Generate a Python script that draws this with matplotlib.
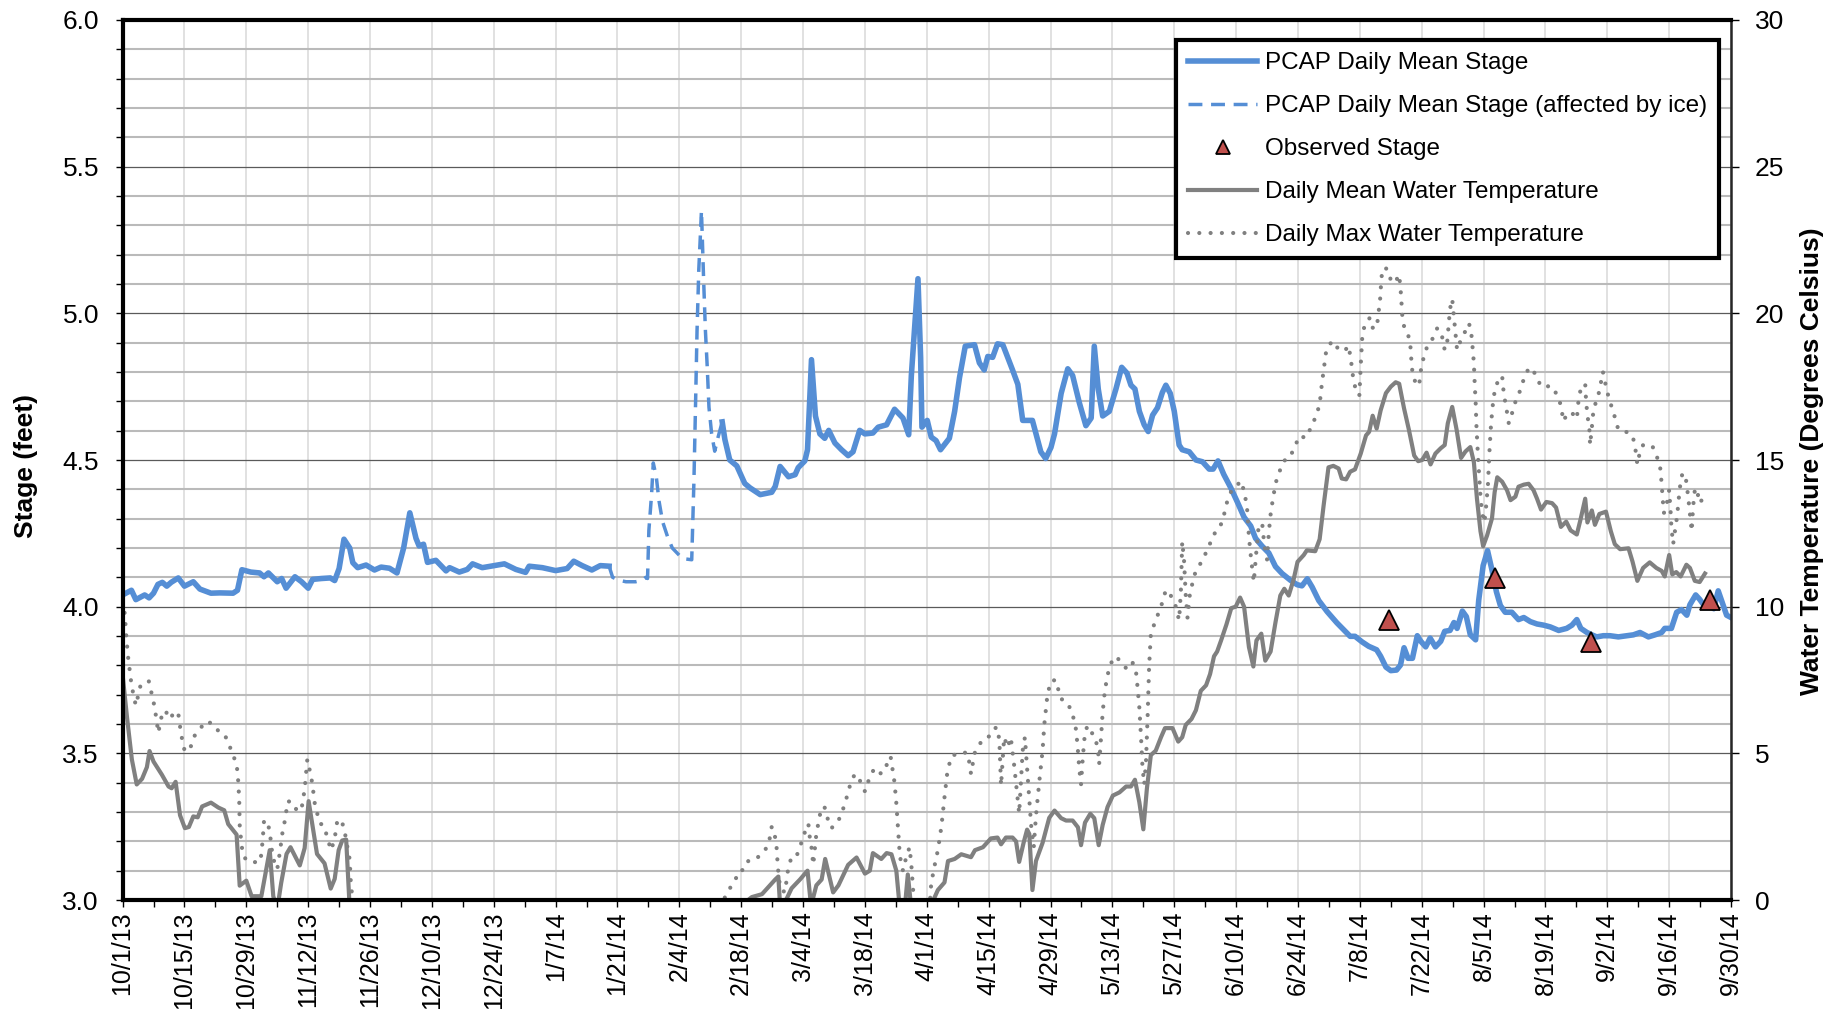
import matplotlib
matplotlib.use('Agg')
import matplotlib.pyplot as plt
import matplotlib.dates as mdates
from matplotlib.ticker import MultipleLocator, FixedLocator, FuncFormatter
import numpy as np
from datetime import date

plt.rcParams['font.family'] = ['Liberation Sans', 'DejaVu Sans']

# all x values are days counted from 10/1/13 (start of the water year)
start = date(2013, 10, 1)

stage_day = [0.0, 2.0, 3.0, 5.0, 6.0, 7.0, 8.0, 9.0, 10.0, 11.0, 12.6, 14.0, 16.0, 17.5, 20.0,
             22.0, 25.0, 26.0, 27.0, 29.0, 31.0, 32.0, 33.0, 35.0, 36.0, 37.0, 39.0, 40.5,
             42.0, 43.0, 45.0, 47.0, 48.0, 49.0, 50.1, 51.4, 52.1, 53.2, 55.1, 57.0, 58.5,
             60.4, 62.1, 63.6, 65.0, 66.4, 67.1, 68.1, 69.0, 70.9, 73.2, 74.0, 76.2, 78.0,
             79.2, 81.4, 84.1, 86.4, 89.0, 91.2, 92.0, 95.0, 98.0, 100.6, 102.1, 104.0,
             106.2, 108.1, 110.1,
             112.0, 135.7, 136.3, 137.4, 139.0, 140.8, 142.0, 144.3, 146.9, 147.7, 148.8,
             150.7, 152.2, 152.9, 154.4, 155.0, 155.9, 156.8, 157.8, 158.9, 159.8, 161.2,
             162.7, 164.2, 165.3, 166.8, 168.0, 169.8, 171.0, 172.9, 174.7, 176.6, 177.9,
             178.5, 180.0, 180.6, 180.9, 182.1, 183.0, 184.1, 185.1, 187.1, 188.3, 189.4,
             190.7, 192.8, 193.9, 195.0, 195.8, 196.9, 198.0, 199.2, 200.3, 201.4, 202.6,
             203.7, 205.9, 207.8, 208.9, 210.1, 210.9, 212.4, 213.9, 215.0, 216.5, 218.0,
             219.2, 219.9, 220.8, 221.8, 223.3, 224.8, 226.1, 227.3, 228.2, 229.1, 230.1,
             231.2, 232.1, 233.1, 234.2, 235.3, 236.1, 237.1, 238.0, 239.1, 239.8, 241.4,
             242.9, 244.4, 245.9, 246.8, 247.9, 249.2, 250.8, 252.3, 253.8, 255.3, 256.4,
             257.9, 259.4, 260.9, 262.4, 264.3, 265.8, 266.9, 268.1, 269.2, 270.7, 272.6,
             274.8, 276.3, 277.8, 278.9, 280.5, 282.0, 283.8, 284.7, 285.9, 287.0, 288.3,
             289.2, 290.0, 290.9, 291.9, 293.0, 293.8, 294.9, 295.9, 297.1, 298.3, 299.2,
             300.4, 301.3, 302.0, 303.2, 304.1, 305.0, 306.2, 306.9, 307.9, 308.9, 309.9,
             310.9, 311.8, 312.9, 314.4, 315.9, 317.1, 318.6, 320.1, 321.6, 323.1, 325.0,
             326.8, 328.0, 329.1, 330.0, 331.4, 332.5, 333.6, 335.1, 336.6, 338.5, 340.4,
             341.9, 343.4, 345.3, 346.8, 348.3, 349.0, 350.5, 351.7, 352.8, 354.0, 354.7,
             356.0, 356.9, 358.1, 359.2, 360.1, 361.1, 362.1, 363.0, 364.0]
stage_ft = [4.04, 4.056, 4.024, 4.04, 4.03, 4.046, 4.076, 4.083, 4.07, 4.083, 4.098, 4.07, 4.085,
            4.06, 4.046, 4.047, 4.046, 4.056, 4.126, 4.118, 4.115, 4.102, 4.115, 4.085, 4.096,
            4.063, 4.102, 4.085, 4.063, 4.093, 4.096, 4.098, 4.089, 4.13, 4.23, 4.2, 4.15,
            4.133, 4.142, 4.125, 4.135, 4.131, 4.115, 4.2, 4.32, 4.233, 4.207, 4.213, 4.151,
            4.158, 4.122, 4.133, 4.118, 4.127, 4.146, 4.133, 4.14, 4.146, 4.127, 4.117, 4.138,
            4.133, 4.123, 4.13, 4.155, 4.14, 4.125, 4.14, 4.138,
            np.nan, 4.63, 4.57, 4.50, 4.48, 4.42, 4.405, 4.382, 4.39, 4.41, 4.478, 4.443, 4.45,
            4.474, 4.497, 4.535, 4.842, 4.65, 4.589, 4.574, 4.601, 4.558, 4.535, 4.515, 4.528,
            4.601, 4.589, 4.592, 4.612, 4.62, 4.673, 4.643, 4.586, 4.788, 5.118, 4.85, 4.612,
            4.635, 4.578, 4.566, 4.535, 4.574, 4.666, 4.781, 4.888, 4.893, 4.831, 4.807, 4.853,
            4.85, 4.896, 4.893, 4.85, 4.807, 4.758, 4.635, 4.635, 4.528, 4.505, 4.543, 4.589,
            4.727, 4.811, 4.788, 4.696, 4.617, 4.643, 4.888, 4.742, 4.65, 4.666, 4.742, 4.816,
            4.796, 4.755, 4.742, 4.666, 4.62, 4.597, 4.653, 4.678, 4.73, 4.755, 4.727, 4.666,
            4.551, 4.535, 4.528, 4.5, 4.494, 4.469, 4.469, 4.497, 4.451, 4.405, 4.356, 4.305,
            4.275, 4.233, 4.206, 4.183, 4.137, 4.113, 4.09, 4.075, 4.071, 4.095, 4.067, 4.021,
            3.983, 3.945, 3.922, 3.899, 3.899, 3.88, 3.865, 3.853, 3.831, 3.794, 3.782, 3.784,
            3.801, 3.86, 3.824, 3.824, 3.901, 3.882, 3.863, 3.893, 3.863, 3.882, 3.916, 3.919,
            3.946, 3.926, 3.985, 3.966, 3.904, 3.887, 4.022, 4.14, 4.191, 4.125, 4.051, 4.004,
            3.981, 3.981, 3.956, 3.963, 3.949, 3.941, 3.937, 3.931, 3.919, 3.926, 3.937, 3.956,
            3.926, 3.912, 3.904, 3.897, 3.901, 3.901, 3.897, 3.901, 3.904, 3.912, 3.897, 3.904,
            3.912, 3.926, 3.926, 3.981, 3.99, 3.971, 4.007, 4.04, 4.025, 4.0, 4.007, 3.993,
            4.054, 4.01, 3.971, 3.963]

ice_day = [110.1, 110.9, 112.4, 113.9, 116.1, 117.6, 118.4, 118.8, 119.1, 119.7, 120.1, 120.8,
           121.4, 122.2, 123.3, 124.4, 126.7, 128.8, 129.3, 129.7, 130.0, 130.4, 130.8, 131.0,
           131.5, 131.9, 132.3, 132.7, 133.3, 134.0, 134.8, 135.7]
ice_ft = [4.138, 4.10, 4.09, 4.085, 4.085, 4.09, 4.10, 4.096, 4.26, 4.38, 4.49, 4.44, 4.36, 4.29,
          4.24, 4.20, 4.164, 4.16, 4.43, 4.716, 4.94, 5.15, 5.28, 5.35, 5.11, 4.94, 4.82, 4.68,
          4.59, 4.53, 4.58, 4.63]

obs_day = [286.5, 310.5, 332.3, 359.3]
obs_ft = [3.956, 4.099, 3.878, 4.022]

tmean_day = [0.0, 1.0, 2.1, 3.2, 4.4, 5.5, 6.1, 7.0, 8.9, 10.4, 11.1, 12.0, 13.0, 14.1, 15.0,
             16.0, 17.0, 18.0, 20.0, 21.7, 23.0, 23.9, 25.8, 26.5, 28.0, 29.2, 31.4, 33.3,
             34.1, 35.0, 35.9, 37.1, 38.0, 40.1, 41.2, 42.1, 43.1, 44.0, 45.7, 47.1, 48.0,
             48.9, 49.7, 50.6, 51.4,
             95.0, 139.0, 142.4, 144.7, 146.5, 147.7, 148.4, 148.8, 150.3, 151.4, 153.3, 155.0,
             155.8, 157.0, 158.2, 159.0, 160.8, 162.0, 164.2, 166.1, 168.0, 169.1, 169.8,
             171.7, 172.9, 174.0, 175.1, 175.9, 177.0, 177.7, 178.5, 182.6, 184.5, 186.0,
             186.8, 188.3, 189.8, 192.0, 192.9, 194.7, 196.5, 198.0, 198.8, 199.9, 201.4,
             202.2, 202.9, 203.9, 204.7, 205.2, 205.9, 206.7, 208.2, 209.7, 210.9, 212.4,
             213.5, 215.0, 216.2, 216.9, 217.8, 219.0, 219.9, 220.9, 221.8, 222.9, 224.1,
             225.6, 227.1, 228.2, 229.1, 230.1, 231.0, 231.8, 232.7, 233.8, 235.0, 235.9,
             237.6, 238.9, 239.8, 240.6, 241.9, 242.9, 244.0, 245.2, 246.1, 247.0, 247.7,
             248.6, 249.8, 250.9, 251.9, 252.9, 253.8, 254.9, 255.9, 256.6, 257.7, 258.6,
             259.8, 260.9, 262.0, 262.9, 263.9, 265.0, 265.9, 267.3, 268.0, 269.9, 270.9,
             271.8, 272.9, 274.0, 275.2, 275.9, 276.9, 277.8, 278.9, 280.2, 281.4, 282.1,
             282.9, 283.8, 284.7, 285.9, 287.0, 288.1, 288.9, 290.0, 291.1, 292.3, 293.2,
             294.1, 295.1, 296.0, 297.1, 298.3, 299.2, 299.9, 300.9, 301.9, 302.9, 303.9,
             305.0, 305.8, 306.5, 307.3, 307.9, 308.8, 309.9, 310.5, 311.1, 312.2, 313.3,
             314.1, 315.2, 315.9, 317.1, 318.2, 319.3, 320.1, 321.0, 322.2, 323.5, 324.4,
             325.5, 326.7, 327.7, 329.1, 330.0, 331.0, 331.5, 332.5, 333.2, 334.2, 335.7,
             336.8, 337.7, 338.9, 340.8, 341.7, 342.8, 344.1, 345.6, 347.1, 348.3, 349.0,
             350.0, 350.7, 351.6, 352.6, 353.9, 354.7, 355.8, 356.9, 358.1]
tmean_c = [7.68, 6.23, 4.79, 3.94, 4.13, 4.53, 5.08, 4.72, 4.27, 3.87, 3.81, 4.03, 2.89, 2.45,
           2.49, 2.85, 2.82, 3.19, 3.32, 3.15, 3.06, 2.59, 2.23, 0.49, 0.66, 0.13, 0.13, 1.70,
           0.13, -0.3, 0.59, 1.57, 1.80, 1.18, 1.77, 3.37, 2.43, 1.57, 1.25, 0.39, 0.72, 1.70,
           2.03, 2.06, -0.3,
           np.nan, -0.3, 0.1, 0.2, 0.5, 0.7, 0.8, -0.2, 0.05, 0.4, 0.7, 1.0, -0.2, 0.5, 0.7, 1.4,
           0.26, 0.5, 1.2, 1.45, 0.9, 1.0, 1.6, 1.4, 1.6, 1.56, 1.0, -0.3, -0.3, 0.87, -0.3,
           -0.3, 0.34, 0.6, 1.33, 1.4, 1.56, 1.46, 1.7, 1.8, 2.1, 2.13, 1.9, 2.13, 2.13, 2.0,
           1.3, 1.95, 2.4, 2.25, 0.34, 1.33, 1.95, 2.8, 3.05, 2.79, 2.71, 2.71, 2.48, 1.87,
           2.64, 2.94, 2.79, 1.87, 2.56, 3.17, 3.56, 3.67, 3.87, 3.87, 4.10, 3.33, 2.41, 3.79,
           4.94, 5.09, 5.55, 5.86, 5.86, 5.40, 5.55, 5.97, 6.17, 6.47, 7.13, 7.32, 7.70, 8.31,
           8.47, 8.85, 9.39, 9.95, 10.0, 10.31, 10.0, 8.62, 7.96, 8.85, 9.08, 8.16, 8.47, 9.46,
           10.38, 10.61, 10.38, 10.92, 11.53, 11.76, 11.92, 11.89, 12.30, 13.45, 14.75, 14.80,
           14.71, 14.37, 14.34, 14.60, 14.68, 15.22, 15.84, 15.96, 16.51, 16.07, 16.69, 17.28,
           17.50, 17.65, 17.60, 16.76, 16.03, 15.15, 14.96, 15.0, 15.25, 14.85, 15.22, 15.40,
           15.51, 16.25, 16.81, 16.03, 15.07, 15.29, 15.44, 14.93, 13.68, 12.57, 12.06, 12.43,
           13.01, 13.90, 14.41, 14.26, 13.97, 13.63, 13.75, 14.09, 14.16, 14.19, 13.97, 13.68,
           13.31, 13.57, 13.53, 13.38, 12.72, 12.90, 12.60, 12.46, 13.01, 13.68, 12.87, 13.28,
           12.79, 13.16, 13.24, 12.57, 12.13, 11.96, 11.99, 11.54, 10.88, 11.32, 11.51, 11.32,
           11.22, 11.03, 11.76, 11.10, 11.18, 11.03, 11.43, 11.32, 10.88, 10.84, 11.13]

tmax_day = [0.0, 0.5, 0.8, 1.2, 1.5, 1.7, 2.1, 2.5, 3.0, 3.5, 4.0, 4.7, 5.9, 6.5, 7.0, 7.4, 7.7,
            8.1, 8.5, 8.9, 9.6, 10.8, 11.7, 12.6, 13.2, 13.6, 14.1, 15.5, 16.2, 17.5, 19.0,
            20.8, 22.0, 23.2, 24.1, 24.8, 25.8, 26.2, 26.4, 26.5, 26.9, 27.3, 28.4, 29.8, 31.2,
            31.7, 32.0, 32.6, 33.3, 33.7, 34.3, 35.0, 35.6, 36.2, 36.7, 37.4, 38.6, 39.5, 40.5,
            41.2, 41.8, 42.3, 42.9, 43.5, 44.6, 45.6, 46.5, 47.2, 48.0, 48.6, 49.5, 50.2, 50.6,
            51.0, 51.4, 51.6, 51.9, 52.2,
            95.0, 136.0, 136.3, 137.6, 138.7, 139.5, 140.6, 141.7, 143.2, 144.7, 145.8, 146.5,
            146.9, 147.7, 148.0, 148.3, 148.8, 149.9, 150.5, 151.4, 152.6, 153.3, 154.1, 155.2,
            155.4, 155.9, 156.3, 157.0, 157.8, 158.8, 159.7, 160.4, 161.8, 162.7, 163.5, 164.6,
            165.7, 167.2, 168.0, 169.1, 170.2, 171.7, 172.9, 173.8, 174.7, 175.1, 175.5, 175.9,
            176.6, 177.4, 178.1, 178.5, 179.2, 182.6, 183.0, 183.8, 184.5, 185.3, 186.0, 186.6,
            187.5, 189.8, 191.3, 192.0, 192.8, 194.7, 196.5, 197.7, 198.4, 198.8, 199.5, 200.3,
            201.0, 201.8, 202.9, 203.7, 204.2, 204.8, 205.6, 206.2, 206.7, 207.5, 208.2, 208.6,
            209.3, 210.1, 211.2, 212.3, 213.5, 214.7, 215.4, 215.8, 216.2, 216.5, 216.9, 217.3,
            217.7, 218.3, 219.2, 219.9, 220.7, 221.0, 221.4, 221.8, 222.2, 222.8, 223.7, 224.8,
            226.1, 227.4, 228.6, 229.3, 229.7, 230.1, 230.5, 230.8, 231.2, 231.6, 232.0, 232.3,
            232.7, 233.8, 235.0, 236.1, 237.2, 238.1, 238.7, 239.1, 239.5, 239.8, 240.2, 240.6,
            241.0, 241.5, 242.5, 243.6, 244.7, 245.9, 246.8, 247.9, 248.9, 250.0, 250.9, 251.9,
            253.0, 253.9, 254.5, 254.9, 255.4, 256.0, 256.6, 257.1, 257.9, 258.4, 259.0, 259.4,
            259.8, 260.4, 261.1, 262.0, 262.9, 264.1, 265.0, 266.4, 267.7, 268.8, 269.5, 270.3,
            270.9, 271.4, 272.0, 272.4, 273.3, 274.2, 275.2, 276.7, 277.4, 277.9, 278.4, 278.9,
            279.5, 279.9, 280.2, 280.6, 281.4, 282.3, 282.9, 283.8, 284.1, 284.6, 284.9, 285.6,
            286.4, 287.0, 287.9, 288.9, 289.3, 289.6, 290.0, 290.8, 291.4, 291.7, 291.9, 292.7,
            293.4, 293.9, 294.5, 295.3, 296.4, 297.5, 298.4, 299.2, 299.8, 300.4, 300.9, 301.4,
            302.0, 302.8, 303.7, 304.7, 305.2, 305.4, 305.8, 306.0, 306.2, 306.4, 306.7, 307.0,
            307.3, 307.7, 308.2, 308.6, 309.0, 309.3, 309.7, 310.2, 310.7, 311.4, 312.2, 312.6,
            313.0, 313.7, 314.4, 315.0, 315.9, 316.7, 317.4, 318.4, 319.7, 320.7, 321.6, 323.1,
            324.4, 325.4, 326.1, 327.0, 328.2, 329.1, 329.5, 330.0, 331.0, 331.2, 331.5, 332.0,
            332.1, 332.5, 332.9, 333.5, 334.2, 335.0, 335.5, 336.0, 336.6, 337.4, 338.5, 339.6,
            340.8, 341.7, 342.3, 342.8, 343.4, 344.2, 345.3, 346.3, 347.0, 347.9, 348.3, 348.5,
            348.8, 349.4, 350.0, 350.3, 350.5, 350.9, 351.3, 351.8, 352.4, 353.0, 353.8, 354.3,
            354.7, 355.1, 355.4, 355.8, 356.2, 356.9, 357.9]
tmax_c = [10.17, 9.75, 9.06, 8.33, 8.0, 7.68, 7.28, 6.96, 6.63, 6.96, 7.28, 7.35, 7.48, 7.09, 6.76,
          6.43, 6.10, 5.70, 6.04, 6.30, 6.47, 6.17, 6.43, 6.36, 5.70, 5.38, 5.05, 5.25, 5.58,
          5.84, 6.10, 5.97, 5.68, 5.60, 5.31, 4.99, 4.66, 4.00, 3.35, 2.56, 1.90, 1.50, 1.31,
          1.29, 1.31, 2.03, 2.69, 2.72, 2.36, 1.77, 1.31, 1.05, 1.64, 2.32, 2.69, 3.37, 3.32,
          3.02, 3.11, 3.77, 4.79, 4.46, 4.00, 3.28, 2.62, 2.53, 2.03, 1.70, 2.10, 2.72, 2.72,
          2.40, 2.03, 1.70, 1.38, 0.72, 0.20, -0.3,
          np.nan, -0.3, 0.10, 0.44, 0.70, 1.00, 1.03, 1.36, 1.40, 1.56, 1.80, 2.13, 2.50, 2.13,
          1.80, 1.10, 0.40, 0.26, 0.95, 1.50, 1.53, 1.80, 2.20, 2.60, 2.25, 1.80, 1.20, 2.25,
          2.90, 3.20, 2.70, 2.45, 2.64, 2.95, 3.30, 3.90, 4.30, 4.00, 3.70, 4.20, 4.50, 4.30,
          4.60, 4.90, 4.00, 3.30, 2.40, 1.50, 1.00, 1.50, 1.80, 1.20, -0.3, -0.3, 0.57, 1.20,
          1.70, 2.50, 3.50, 4.30, 4.90, 5.05, 5.00, 4.30, 5.00, 5.50, 5.60, 5.90, 5.50, 3.90,
          5.55, 5.20, 5.55, 4.55, 2.95, 5.10, 5.55, 4.25, 2.56, 1.80, 2.87, 4.10, 5.10, 6.00,
          7.00, 7.47, 7.50, 6.86, 6.78, 6.47, 6.09, 5.78, 5.09, 4.48, 3.94, 4.86, 5.55, 5.94,
          5.71, 5.63, 5.17, 4.63, 5.48, 6.40, 7.00, 7.62, 8.08, 8.31, 8.08, 7.85, 8.08, 7.85,
          7.24, 6.55, 5.48, 4.56, 3.94, 4.71, 6.40, 7.93, 9.08, 9.54, 10.0, 10.57, 10.38, 10.15,
          9.77, 9.54, 10.54, 12.22, 11.61, 10.38, 9.62, 10.38, 11.07, 11.38, 11.69, 12.07,
          12.45, 12.60, 12.91, 13.60, 13.94, 14.06, 14.29, 13.91, 13.30, 12.38, 11.61, 10.84,
          11.92, 12.76, 12.84, 12.07, 11.61, 12.53, 13.14, 13.76, 14.29, 14.68, 14.98, 15.06,
          15.37, 15.83, 15.75, 16.06, 16.29, 16.60, 16.90, 17.59, 18.28, 18.74, 18.97, 19.05,
          18.74, 18.74, 18.90, 18.51, 17.90, 17.51, 17.50, 17.21, 18.24, 19.34, 19.71, 19.85,
          19.51, 19.49, 19.85, 20.51, 21.25, 21.57, 21.47, 21.13, 21.03, 21.32, 20.66, 19.93,
          19.56, 19.34, 18.97, 18.31, 17.99, 17.57, 17.54, 18.16, 18.53, 18.90, 19.12, 19.49,
          19.37, 18.75, 19.07, 20.15, 20.49, 19.71, 18.75, 19.07, 19.34, 19.66, 19.34, 19.04,
          18.31, 17.57, 16.99, 16.10, 15.22, 14.49, 13.75, 13.16, 12.87, 13.46, 14.19, 15.22,
          16.25, 17.06, 17.50, 17.72, 17.87, 17.21, 16.91, 16.25, 16.57, 16.91, 17.21, 17.57,
          17.90, 18.16, 17.94, 17.60, 17.46, 17.54, 17.28, 16.91, 16.32, 16.62, 16.57, 16.40,
          17.06, 17.43, 17.60, 16.99, 16.54, 15.96, 15.51, 16.10, 16.76, 16.99, 17.35, 18.01,
          17.65, 17.31, 16.99, 16.62, 16.03, 15.99, 15.93, 15.84, 15.44, 14.85, 15.29, 15.54,
          15.51, 15.44, 15.19, 14.85, 14.19, 13.75, 13.19, 13.46, 13.97, 13.31, 12.72, 12.13,
          12.57, 13.09, 14.04, 14.56, 14.34, 13.75, 13.16, 12.57, 13.38, 13.97, 14.04, 13.53,
          13.75]

labels = ['PCAP Daily Mean Stage', 'PCAP Daily Mean Stage (affected by ice)', 'Observed Stage',
          'Daily Mean Water Temperature', 'Daily Max Water Temperature']

t0 = mdates.date2num(start)


def to_x(days):
    return t0 + np.array(days, dtype=float)


blue = '#558ED5'
gray = '#808080'

fig = plt.figure(figsize=(18.49, 10.09), dpi=100)
ax = fig.add_axes([0.0663, 0.108, 0.8699, 0.8722])
ax2 = ax.twinx()
ax3 = ax.twinx()

l_stage, = ax.plot(to_x(stage_day), stage_ft, color=blue, lw=4.0, solid_joinstyle='round')
l_ice, = ax.plot(to_x(ice_day), ice_ft, color=blue, lw=2.5, dashes=(4, 2.5))

l_tmean, = ax2.plot(to_x(tmean_day), tmean_c, color=gray, lw=3.0, solid_joinstyle='round')
l_tmax, = ax2.plot(to_x(tmax_day), tmax_c, color=gray, lw=3.0,
                   linestyle=(0, (0.01, 2.7)), dash_capstyle='round')

l_obs, = ax3.plot(to_x(obs_day), obs_ft, linestyle='none', marker='^', ms=15,
                  markerfacecolor='#C0504D', markeredgecolor='black', markeredgewidth=1.3)

xlo, xhi = t0, t0 + 364
for a in (ax, ax2, ax3):
    a.set_xlim(xlo, xhi)
ax.set_ylim(3.0, 6.0)
ax3.set_ylim(3.0, 6.0)
ax2.set_ylim(0, 30)

ax.xaxis.set_major_locator(FixedLocator(list(to_x(np.arange(0, 365, 14)))))
ax.xaxis.set_minor_locator(FixedLocator(list(to_x(np.arange(0, 365, 7)))))


def fmt_date(v, pos):
    d = mdates.num2date(v)
    return f"{d.month}/{d.day}/{d.year % 100}"


ax.xaxis.set_major_formatter(FuncFormatter(fmt_date))
ax.yaxis.set_major_locator(MultipleLocator(0.5))
ax.yaxis.set_minor_locator(MultipleLocator(0.1))
ax.yaxis.set_major_formatter(FuncFormatter(lambda v, p: f"{v:.1f}"))
ax2.yaxis.set_major_locator(MultipleLocator(5))

ax.set_axisbelow(True)
ax.grid(axis='y', which='minor', color='#bababa', lw=1.5)
ax.grid(axis='y', which='major', color='#5a5a5a', lw=0.9)
ax.grid(axis='x', which='major', color='#d9d9d9', lw=1.1)

ax.tick_params(axis='y', which='both', direction='out', length=5, width=1, labelsize=19, pad=12)
ax.tick_params(axis='x', which='both', direction='out', length=5, width=1, labelsize=18, pad=3,
               labelrotation=90)
ax2.tick_params(axis='y', direction='out', length=6, width=1, labelsize=19, pad=11)
ax3.set_yticks([])
ax3.tick_params(which='both', left=False, right=False, labelleft=False, labelright=False)

for s in ax.spines.values():
    s.set_visible(False)
for name, s in ax2.spines.items():
    s.set_visible(name == 'right')
ax2.spines['right'].set_linewidth(1.8)
ax2.spines['right'].set_color('#262626')
for name, s in ax3.spines.items():
    s.set_visible(name in ('left', 'top', 'bottom'))
    s.set_linewidth(3)
    s.set_color('black')

fig.text(0.0141, 0.538, 'Stage (feet)', rotation=90, ha='center', va='center',
         fontsize=19, fontweight='bold')
fig.text(0.980, 0.543, 'Water Temperature (Degrees Celsius)', rotation=90, ha='center',
         va='center', fontsize=19, fontweight='bold')

leg = ax3.legend([l_stage, l_ice, l_obs, l_tmean, l_tmax], labels, loc='upper right',
                 bbox_to_anchor=(0.9925, 0.977), fontsize=17.5, frameon=True, fancybox=False,
                 edgecolor='black', framealpha=1, handlelength=2.85, handletextpad=0.3,
                 labelspacing=0.86, borderpad=0.5, markerscale=0.7, numpoints=1,
                 borderaxespad=0)
leg.get_frame().set_linewidth(3)

fig.savefig('out.png', dpi=100)
